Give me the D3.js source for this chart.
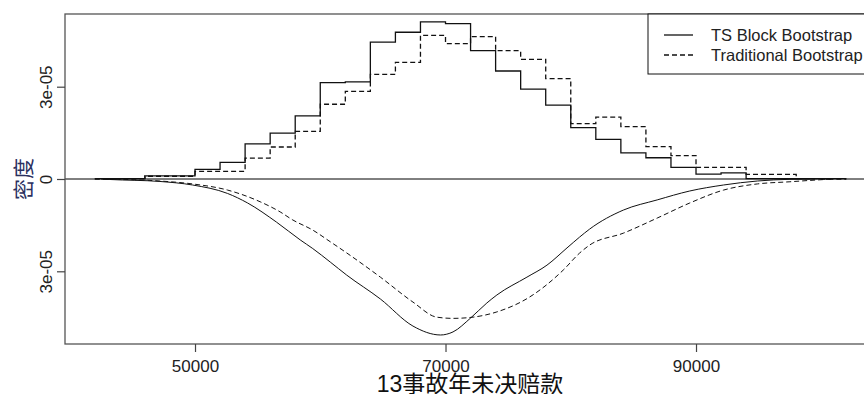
<!DOCTYPE html>
<html>
<head>
<meta charset="utf-8">
<script src="https://cdn.jsdelivr.net/npm/d3@7/dist/d3.min.js"></script>
<style>
  html, body { margin: 0; padding: 0; background: #fff; }
  svg { display: block; }
</style>
</head>
<body>
<div id="chart"></div>
<script>
// Outstanding claims for accident year 13: bootstrap histograms (upper half)
// and mirrored kernel density curves (lower half). Densities in units of 1e-5.
const UNIT = 1e-5;

const binStarts = [42000, 44000, 46000, 48000, 50000, 52000, 54000, 56000, 58000, 60000,
                   62000, 64000, 66000, 68000, 70000, 72000, 74000, 76000, 78000, 80000,
                   82000, 84000, 86000, 88000, 90000, 92000, 94000, 96000, 98000, 100000];
const binWidth = 2000;

const histBlock = [0.01, 0.01, 0.10, 0.10, 0.31, 0.54, 1.14, 1.49, 2.05, 3.13,
                   3.16, 4.45, 4.77, 5.11, 5.05, 4.17, 3.51, 2.92, 2.40, 1.67,
                   1.29, 0.85, 0.69, 0.38, 0.16, 0.20, 0.01, 0.01, 0.01, 0.01];
const histTrad  = [0.00, 0.01, 0.09, 0.09, 0.25, 0.25, 0.68, 1.04, 1.55, 2.43,
                   2.85, 3.40, 3.79, 4.67, 4.40, 4.63, 4.17, 3.89, 3.26, 1.80,
                   2.01, 1.70, 1.05, 0.76, 0.38, 0.38, 0.15, 0.15, 0.01, 0.00];

const densXBlock = [42500, 43200, 47200, 49800, 52600, 54200, 56500, 58400, 59400, 60800,
                    62100, 64800, 67400, 69600, 70600, 72000, 73300, 74100, 76500, 78100,
                    79700, 80700, 81500, 84200, 86900, 89500, 92200, 94900, 97500, 99500];
const densYBlock = [0, 0.016, 0.08, 0.195, 0.47, 0.78, 1.40, 1.98, 2.26, 2.70,
                    3.12, 3.90, 4.78, 5.07, 4.97, 4.52, 4.03, 3.77, 3.19, 2.80,
                    2.24, 1.89, 1.63, 1.01, 0.68, 0.39, 0.195, 0.065, 0.01, 0];

const densXTrad = [43000, 47200, 49800, 52600, 55200, 56800, 57800, 59400, 60800, 62100,
                   64800, 67400, 69300, 70600, 72200, 74100, 76700, 79400, 80700, 81500,
                   84200, 86900, 89500, 92200, 94900, 97500, 99700, 101000];
const densYTrad = [0, 0.065, 0.16, 0.36, 0.74, 1.07, 1.33, 1.66, 2.04, 2.40,
                   3.19, 4.00, 4.49, 4.53, 4.49, 4.32, 3.84, 2.96, 2.41, 2.15,
                   1.76, 1.27, 0.78, 0.36, 0.16, 0.09, 0.03, 0];

const xTicks = [50000, 70000, 90000];
const xTickLabels = ["50000", "70000", "90000"];
const yTicks = [-3e-5, 0, 3e-5];
const yTickLabels = ["3e-05", "0", "3e-05"];

const seriesNames = ["TS Block Bootstrap", "Traditional Bootstrap"];
const xTitle = "13事故年未决赔款";
const yTitle = "密度";

const W = 864, H = 394;
const plot = { left: 65, right: 877, top: 14, bottom: 344 };
const DASH = "5,3";
const latin = "'Liberation Sans', Arial, sans-serif";
const cjk = "'Liberation Sans', 'Noto Sans CJK SC', sans-serif";

const svg = d3.select("#chart").append("svg")
  .attr("width", W).attr("height", H)
  .style("font-family", latin);

svg.append("rect").attr("width", W).attr("height", H).attr("fill", "#fff");

const x = d3.scaleLinear().domain([39620, 104450]).range([plot.left, plot.right]);
const y = d3.scaleLinear().domain([-5.363e-5, 5.363e-5]).range([plot.bottom, plot.top]);

svg.append("clipPath").attr("id", "plotclip")
  .append("rect")
  .attr("x", plot.left).attr("y", plot.top)
  .attr("width", plot.right - plot.left).attr("height", plot.bottom - plot.top);

const g = svg.append("g").attr("clip-path", "url(#plotclip)");

// zero reference line
g.append("line")
  .attr("x1", plot.left).attr("x2", plot.right)
  .attr("y1", y(0)).attr("y2", y(0))
  .attr("stroke", "#000").attr("stroke-width", 1);

// step outlines of the two histograms
function stepPoints(values) {
  const pts = binStarts.map((s, i) => [s, values[i] * UNIT]);
  pts.push([binStarts[binStarts.length - 1] + binWidth, values[values.length - 1] * UNIT]);
  return pts;
}
const stepLine = d3.line()
  .x(d => x(d[0])).y(d => y(d[1]))
  .curve(d3.curveStepAfter);

g.append("path").attr("d", stepLine(stepPoints(histTrad)))
  .attr("fill", "none").attr("stroke", "#111").attr("stroke-width", 1.3)
  .attr("stroke-dasharray", DASH);
g.append("path").attr("d", stepLine(stepPoints(histBlock)))
  .attr("fill", "none").attr("stroke", "#111").attr("stroke-width", 1.3);

// mirrored density curves
const densLine = d3.line()
  .x(d => x(d[0])).y(d => y(-d[1] * UNIT))
  .curve(d3.curveMonotoneX);

g.append("path").attr("d", densLine(densXBlock.map((v, i) => [v, densYBlock[i]])))
  .attr("fill", "none").attr("stroke", "#111").attr("stroke-width", 1);
g.append("path").attr("d", densLine(densXTrad.map((v, i) => [v, densYTrad[i]])))
  .attr("fill", "none").attr("stroke", "#111").attr("stroke-width", 1)
  .attr("stroke-dasharray", DASH);

// plot frame
svg.append("rect")
  .attr("x", plot.left).attr("y", plot.top)
  .attr("width", plot.right - plot.left).attr("height", plot.bottom - plot.top)
  .attr("fill", "none").attr("stroke", "#555").attr("stroke-width", 1.3);

// x axis
const xAxis = d3.axisBottom(x)
  .tickValues(xTicks)
  .tickFormat((d, i) => xTickLabels[i])
  .tickSize(8).tickPadding(6);
const xa = svg.append("g").attr("transform", `translate(0,${plot.bottom})`).call(xAxis);
xa.select(".domain").remove();
xa.selectAll("line").attr("stroke", "#444").attr("stroke-width", 1.2);
xa.selectAll("text").attr("font-size", 17).attr("fill", "#222")
  .attr("font-family", latin).attr("dy", null).attr("y", 28);

// y axis
const yAxis = d3.axisLeft(y)
  .tickValues(yTicks)
  .tickFormat((d, i) => yTickLabels[i])
  .tickSize(8);
const ya = svg.append("g").attr("transform", `translate(${plot.left},0)`).call(yAxis);
ya.select(".domain").remove();
ya.selectAll("line").attr("stroke", "#444").attr("stroke-width", 1.2);
ya.selectAll("text")
  .attr("font-size", 17).attr("fill", "#222").attr("font-family", latin)
  .attr("x", null).attr("dy", null)
  .attr("text-anchor", "middle")
  .attr("transform", "translate(-13,0) rotate(-90)");

// axis titles
svg.append("text")
  .attr("x", 470).attr("y", 392)
  .attr("text-anchor", "middle")
  .attr("font-size", 23).attr("fill", "#111")
  .attr("font-family", cjk)
  .text(xTitle);

svg.append("text")
  .attr("transform", `translate(31,${(plot.top + plot.bottom) / 2}) rotate(-90)`)
  .attr("text-anchor", "middle")
  .attr("font-size", 21).attr("fill", "#2b3060")
  .attr("font-family", cjk)
  .text(yTitle);

// legend
const lg = svg.append("g");
lg.append("rect")
  .attr("x", 648).attr("y", plot.top)
  .attr("width", plot.right - 648).attr("height", 60)
  .attr("fill", "#fff").attr("stroke", "#111").attr("stroke-width", 1);
seriesNames.forEach((name, i) => {
  const ly = 35 + i * 20;
  lg.append("line")
    .attr("x1", 664).attr("x2", 693).attr("y1", ly).attr("y2", ly)
    .attr("stroke", "#111").attr("stroke-width", 1.3)
    .attr("stroke-dasharray", i === 1 ? DASH : null);
  lg.append("text")
    .attr("x", 711).attr("y", ly + 6)
    .attr("font-size", 16.5).attr("fill", "#222")
    .text(name);
});
</script>
</body>
</html>
